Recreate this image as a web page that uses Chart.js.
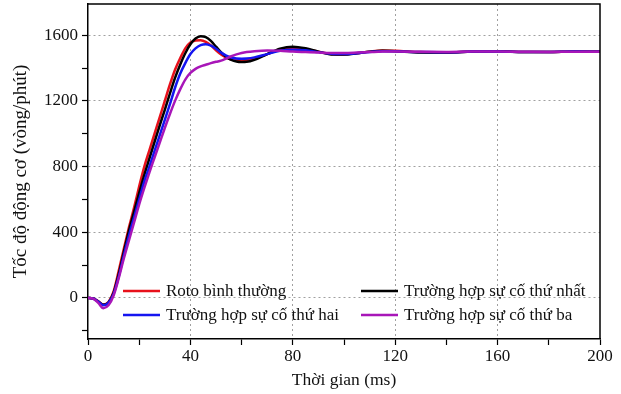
<!DOCTYPE html>
<html lang="vi">
<head>
<meta charset="UTF-8">
<title>Tốc độ động cơ</title>
<script src="https://cdn.jsdelivr.net/npm/chart.js"></script>
<style>
  body { margin: 0; background: #fff; }
  #wrap { width: 621px; height: 394px; position: relative; }
</style>
</head>
<body>
<div id="wrap"><canvas id="speedChart"></canvas></div>
<script>
// time axis (ms) and motor speed (rpm) for each case
const timeMs = [0, 2, 4, 6, 8, 10, 12, 14, 16, 18, 20, 22, 24, 26, 28, 30, 32, 34, 36, 38, 40, 42, 44, 46, 48, 50,
  52, 54, 56, 58, 60, 62, 65, 70, 75, 80, 85, 90, 95, 100, 105, 110, 115, 120, 130, 140, 150, 160, 170, 180, 190, 200];

const normalRotor = [0, -3, -20, -40, -25, 40, 165, 300, 430, 550, 680, 800, 900, 1000, 1100, 1200, 1300, 1390, 1460, 1520, 1555, 1568,
  1570, 1560, 1538, 1508, 1482, 1463, 1452, 1447, 1446, 1448, 1458, 1485, 1512, 1522, 1515, 1500, 1486, 1483, 1490, 1500, 1507, 1505,
  1497, 1495, 1500, 1502, 1498, 1497, 1500, 1500];

const fault1 = [0, -3, -22, -42, -28, 30, 145, 280, 410, 525, 640, 750, 850, 950, 1050, 1145, 1245, 1340, 1420, 1490, 1545, 1580,
  1594, 1588, 1565, 1530, 1495, 1468, 1450, 1440, 1437, 1438, 1450, 1485, 1518, 1530, 1520, 1500, 1483, 1482, 1490, 1500, 1506, 1503,
  1495, 1495, 1500, 1502, 1498, 1497, 1500, 1499];

const fault2 = [0, -3, -22, -45, -30, 25, 130, 260, 380, 490, 600, 710, 800, 895, 990, 1085, 1180, 1280, 1365, 1430, 1485, 1520,
  1540, 1545, 1536, 1518, 1494, 1476, 1464, 1458, 1457, 1458, 1465, 1485, 1505, 1512, 1508, 1497, 1487, 1485, 1490, 1498, 1503, 1502,
  1497, 1496, 1500, 1501, 1498, 1498, 1500, 1499];

const fault3 = [0, -4, -30, -62, -45, 15, 120, 240, 350, 460, 570, 670, 765, 855, 945, 1035, 1120, 1200, 1270, 1330, 1370, 1395,
  1410, 1420, 1430, 1438, 1445, 1458, 1472, 1483, 1492, 1498, 1503, 1507, 1505, 1500, 1497, 1494, 1492, 1492, 1494, 1497, 1500, 1500,
  1499, 1498, 1500, 1500, 1499, 1498, 1499, 1499];

const seriesLabels = ['Roto bình thường', 'Trường hợp sự cố thứ nhất', 'Trường hợp sự cố thứ hai', 'Trường hợp sự cố thứ ba'];
const seriesColors = ['#e8111b', '#000000', '#1515f0', '#a816b8'];
const seriesData = [normalRotor, fault1, fault2, fault3];
const drawOrder = [3, 2, 1, 0];

const xTicks = [0, 40, 80, 120, 160, 200];
const yTicks = [0, 400, 800, 1200, 1600];

const serif = "'Liberation Serif', 'DejaVu Serif', serif";

// legend drawn inside the plot, two columns
const insideLegend = {
  id: 'insideLegend',
  afterDatasetsDraw(chart, args, opts) {
    const ctx = chart.ctx;
    ctx.save();
    ctx.font = opts.font;
    ctx.textBaseline = 'middle';
    ctx.fillStyle = '#111';
    chart.data.datasets.forEach((ds, i) => {
      const p = opts.slots[i];
      ctx.strokeStyle = ds.borderColor;
      ctx.lineWidth = 2.5;
      ctx.beginPath();
      ctx.moveTo(p.x, p.y);
      ctx.lineTo(p.x + opts.lineLen, p.y);
      ctx.stroke();
      ctx.fillText(ds.label, p.x + opts.lineLen + opts.gap, p.y + 1);
    });
    ctx.restore();
  }
};

// closing box on top and right of the plot
const frameBox = {
  id: 'frameBox',
  afterDraw(chart) {
    const a = chart.chartArea;
    const ctx = chart.ctx;
    ctx.save();
    ctx.strokeStyle = '#000';
    ctx.lineWidth = 1.5;
    ctx.beginPath();
    ctx.moveTo(a.left, a.top);
    ctx.lineTo(a.right, a.top);
    ctx.lineTo(a.right, a.bottom);
    ctx.stroke();
    ctx.restore();
  }
};

const datasets = seriesData.map((vals, i) => ({
  label: seriesLabels[i],
  data: vals.map((v, k) => ({ x: timeMs[k], y: v })),
  borderColor: seriesColors[i],
  backgroundColor: seriesColors[i],
  borderWidth: 2.5,
  pointRadius: 0,
  fill: false,
  cubicInterpolationMode: 'monotone',
  order: drawOrder[i]
}));

new Chart(document.getElementById('speedChart'), {
  type: 'line',
  data: { datasets },
  plugins: [insideLegend, frameBox],
  options: {
    responsive: true,
    maintainAspectRatio: false,
    animation: false,
    layout: { padding: { top: 4, right: 21, left: 0, bottom: 0 } },
    plugins: {
      legend: { display: false },
      tooltip: { enabled: false },
      insideLegend: {
        font: '17px ' + serif,
        lineLen: 37,
        gap: 6,
        slots: [
          { x: 123, y: 291 },
          { x: 361, y: 291 },
          { x: 123, y: 315 },
          { x: 361, y: 315 }
        ]
      }
    },
    scales: {
      x: {
        type: 'linear',
        min: 0,
        max: 200,
        afterBuildTicks: s => { s.ticks = []; for (let v = 0; v <= 200; v += 20) s.ticks.push({ value: v }); },
        afterFit: s => { s.height = 55; },
        ticks: {
          callback: v => xTicks.includes(v) ? v : '',
          font: { family: serif, size: 17 },
          color: '#111',
          padding: 1,
          maxRotation: 0,
          autoSkip: false
        },
        grid: {
          color: c => (c.tick && xTicks.includes(c.tick.value) && c.tick.value !== 0 && c.tick.value !== 200) ? '#a0a0a0' : 'rgba(0,0,0,0)',
          lineWidth: 1,
          tickColor: '#000',
          tickLength: 6,
          tickWidth: 1.2
        },
        border: { color: '#000', width: 1.5, dash: [2, 3] },
        title: {
          display: true,
          text: 'Thời gian (ms)',
          font: { family: serif, size: 17.5 },
          color: '#111',
          padding: { top: 0, bottom: 3 }
        }
      },
      y: {
        type: 'linear',
        min: -250,
        max: 1790,
        afterBuildTicks: s => { s.ticks = []; for (let v = -200; v <= 1600; v += 200) s.ticks.push({ value: v }); },
        afterFit: s => { s.width = 88; s.paddingTop = 0; s.paddingBottom = 0; },
        ticks: {
          callback: v => yTicks.includes(v) ? v : '',
          font: { family: serif, size: 17 },
          color: '#111',
          padding: 4,
          autoSkip: false
        },
        grid: {
          color: c => (c.tick && yTicks.includes(c.tick.value)) ? '#a0a0a0' : 'rgba(0,0,0,0)',
          lineWidth: 1,
          tickColor: '#000',
          tickLength: 6,
          tickWidth: 1.2
        },
        border: { color: '#000', width: 1.5, dash: [2, 3] },
        title: {
          display: true,
          text: 'Tốc độ động cơ (vòng/phút)',
          font: { family: serif, size: 19 },
          color: '#111',
          padding: { top: 10, bottom: 0 }
        }
      }
    }
  }
});
</script>
</body>
</html>
